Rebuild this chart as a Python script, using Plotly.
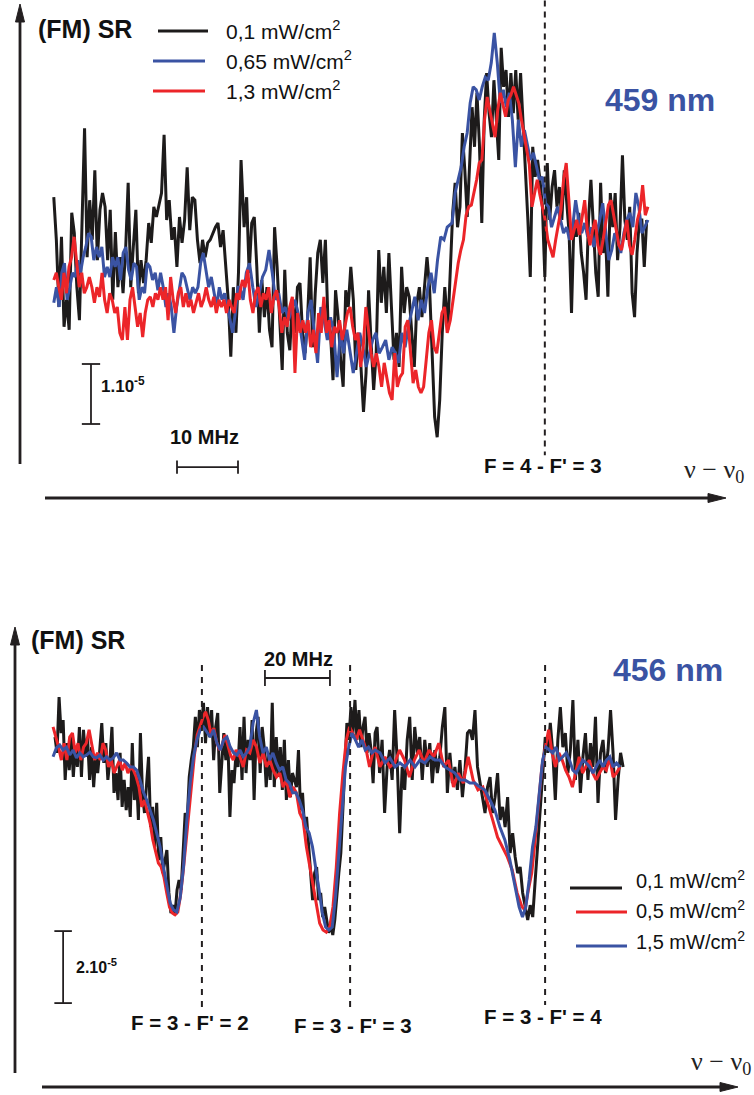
import numpy as np
import plotly.graph_objects as go

W, H = 754, 1095

# ---------------- data (signal in units of 1e-6, frequency in MHz) ----------------
# 459 nm panel
TOP_BLACK_1 = [13.8, 6.7, -4.5, 7.2, -7.8, -3.3, -8.3, 11.2, 7.8, -1.2, -6.7, 11.7, 25.3, 3.8, 13.3, 6.7, 18.3, 3.3, 11.7, 14.5, 12.2, 3.3, 11.7, -3.3, 8.0, -1.2, 3.8, -2.2, 5.0, 16.2, -1.2, 5.5, 11.7, -2.2, 3.3, -0.5, 3.3, 9.5, 6.2, 12.2, 10.5, 12.5, 14.5, 24.2, 10.0, 13.3, 6.7, 8.8, 2.2, 10.5, 6.2, 10.0, 18.8, 8.3, 13.8, 13.3, 6.7, 2.8, 6.7, 3.8, 6.2, 6.7, 7.8, 8.8, 9.5, 5.5, 8.3, 2.2, -3.3, -12.8, -1.2, -8.8, 1.2, 20.0]
TOP_BLACK_2 = [8.8, 13.8, 1.2, 9.5, 10.5, 2.2, -8.8, 0.0, -6.2, -1.2, -8.3, -11.2, 8.8, 2.2, -6.2, -15.0, 1.7, -8.8, -11.7, -3.3, -8.8, -1.2, -0.5, -8.8, -12.2, -6.2, 3.8, -11.2, -2.2, 4.5, 6.7, -0.5, 6.7, -6.7, -8.8, -16.7, -1.7, -6.2, -13.3, -17.8, -1.7, -4.5, 2.2, -3.3, -15.0, -8.8, -14.5, -22.0, -15.5, -1.7, -10.5, -18.3, -12.2, 5.0, -3.8, 2.2, -5.5, 4.5, -4.5, -13.3, -8.8, -14.5, 2.2, -5.5, -1.2, -2.8, -8.8, -14.5, -3.8, -1.2, -6.2, -1.2, 3.8, -1.2, -11.7, -22.8, -26.2, -20.0, -8.8, -1.2]
TOP_BLACK_3 = [-8.3, 1.7, 11.2, 16.2, 8.8, 12.2, 24.5, 18.3, 10.5, 19.5, 28.8, 22.2, 31.2, 22.8, 9.5, 26.7, 34.5, 27.8, 23.8, 33.3, 26.7, 20.0, 38.7, 32.2, 35.0, 27.2, 34.5, 27.8, 35.0, 26.7, 34.5, 26.7, 19.5, 10.0, 0.5, 22.2, 17.2, 20.0, 16.7, 12.2, 0.5, 19.5, 10.0, 15.5, 18.3, 12.2, 15.5, 10.0, 18.3, 12.2, 7.8, -5.5, 10.0, 7.2, 11.2, 4.5, 1.2, -3.3, 10.0, 16.7, 8.8, 1.2, -2.8, 16.2, 4.5, 7.8, -2.8, 14.5, 8.8, 14.5, 3.3, 8.8, 20.8, 10.0, 6.7, 12.2, -2.2, -6.2, 4.5, 10.0, 10.0, 2.2, 10.0]
TOP_BLACK_SPANS = [(-0.2, 30.5), (31.0, 63.9), (64.4, 97.0)]

TOP_BLUE_1 = [-3.8, -1.2, -4.5, 1.2, 2.8, -3.3, -1.2, 1.2, 0.5, 3.3, 1.2, 3.8, 5.5, 7.8, 7.2, 3.3, 5.5, 3.8, 5.5, 0.5, 2.2, 0.5, 3.8, 2.2, 3.8, 0.0, 4.5, 5.5, 1.7, 0.0, 2.8, 2.2, -3.3, -1.2, -2.2, 2.8, 2.2, 0.0, 1.2, -1.7, 1.2, -1.2, -4.5, -2.2, -4.5, -8.8, -4.5, -1.2, 1.2, 0.5, -1.2, -3.3, -1.2, -2.2, -1.2, 2.8, 4.5, 1.2, -1.2, 0.5, -2.2, -4.5, -1.2, -3.3, -2.2, -4.5, -6.7, -8.8, -5.5, -1.2]
TOP_BLUE_2 = [-1.2, -3.3, 1.2, 2.8, -1.2, -4.5, -2.2, 0.5, 1.7, 5.0, 1.2, -3.3, -2.2, -5.5, -4.5, -6.7, -5.0, -3.3, -5.5, -9.5, -13.3, -5.5, -3.3, -8.8, -13.8, -4.5, -6.7, -10.0, -6.2, -8.8, -16.2, -8.8, -12.2, -8.3, -12.2, -15.5, -12.2, -8.8, -11.2, -14.5, -12.2, -10.0, -8.8, -12.2, -11.2, -10.0, -13.3, -11.2, -12.2, -13.8, -8.8, -11.2, -7.8, -5.5, -2.8, -6.7, -3.3, -5.5, -1.2, 1.2, -2.2, 3.3, 7.2, 6.7, 8.8]
TOP_BLUE_3 = [9.5, 14.5, 16.7, 18.8, 22.2, 24.5, 29.5, 32.2, 31.7, 30.0, 32.2, 33.8, 33.3, 36.2, 41.2, 36.2, 29.5, 31.7, 28.8, 31.2, 26.7, 18.8, 26.7, 22.2, 25.0, 22.2, 20.0, 21.2, 18.8, 16.7, 17.2, 12.8, 12.2, 8.8, 10.5, 12.2, 10.0, 7.8, 8.8, 6.7, 8.8, 13.3, 10.0, 7.8, 9.5, 7.2, 8.8, 5.5, 7.8, 10.0, 12.8, 8.3, 3.3, 5.0, 7.8, 6.7, 4.5, 7.8, 10.0, 11.2, 8.8, 14.5, 12.2, 7.8, 8.8, 10.0]
TOP_BLUE_SPANS = [(-0.2, 30.0), (30.3, 64.3), (65.1, 97.2)]

TOP_RED_1 = [0.0, 1.2, -1.2, -3.3, 1.2, -2.2, 2.2, 3.8, 7.2, 3.3, -1.2, 1.2, -2.2, -1.2, 0.5, -1.2, -3.8, -1.2, -2.8, 1.2, -3.3, -5.5, -2.2, -3.3, -5.5, -4.5, -8.8, -10.0, -4.5, -10.0, -3.3, -1.2, -4.5, -7.8, -5.5, -9.5, -5.5, -3.3, -2.8, -4.5, -2.2, -3.3, -1.2, -3.3, -1.2, -6.7, 0.5, -3.3, -5.5, -2.2, -1.2, -4.5, -2.2, -4.5, -3.3, -5.5, -3.8, -2.2, -4.5, -3.3, -1.2, -3.3, -4.5, -2.8, -5.5, -3.3, -4.5, -3.3, -5.5, -3.3, -4.5, -5.5, -2.2, -3.3]
TOP_RED_2 = [-2.2, 0.0, -1.2, 1.7, -3.3, -5.5, -2.2, -1.2, -4.5, -2.2, -3.3, -1.2, -5.5, -2.8, -1.7, -4.5, -8.8, -6.2, -7.8, -4.5, -2.8, -15.5, -5.5, -8.8, -6.7, -8.8, -6.7, -11.2, -8.3, -12.2, -5.5, -8.8, -2.8, -8.8, -6.7, -11.2, -7.8, -8.8, -6.7, -10.0, -7.8, -5.5, -4.5, -7.8, -10.0, -8.8, -14.5, -11.2, -4.5, -8.8, -12.2, -14.5, -12.2, -14.5, -17.8, -13.8, -16.2, -18.8, -20.0, -12.2, -17.8, -16.2, -15.5, -7.8, -6.7, -12.8, -17.2, -15.0, -17.8, -18.8, -17.8, -13.3, -8.8, -6.7, -11.2, -12.2, -8.8, -5.5, -4.5, -8.8]
TOP_RED_3 = [-6.7, -3.3, 0.0, 2.8, 5.0, 6.7, 10.8, 12.2, 12.5, 14.5, 16.7, 19.5, 20.0, 26.7, 30.5, 28.3, 25.8, 23.8, 28.3, 31.2, 29.2, 27.2, 30.0, 30.8, 32.2, 30.8, 29.5, 26.7, 24.2, 22.2, 19.2, 12.2, 14.2, 16.7, 14.2, 12.2, 10.0, 6.7, 5.0, 3.8, 6.7, 9.5, 11.7, 16.7, 19.5, 13.3, 6.7, 8.3, 10.0, 7.5, 10.8, 13.3, 8.3, 5.8, 8.3, 10.0, 5.8, 4.2, 6.7, 10.0, 12.5, 13.3, 10.8, 8.3, 5.8, 5.0, 7.5, 10.0, 5.8, 4.2, 6.7, 10.0, 11.7, 15.8, 10.8, 12.2]
TOP_RED_SPANS = [(-0.2, 30.2), (30.3, 64.3), (64.8, 97.2)]

# 456 nm panel
BOT_BLACK_1 = [3.6, -0.8, 14.7, 4.7, 8.3, -8.3, 1.9, -5.6, 3.6, -7.5, 0.8, -4.7, 6.4, -7.5, 5.6, -1.9, 3.6, -8.3, 0.8, -10.3, -1.9, -6.4, 0.0, 7.5, -3.6, 1.9, -8.3, -2.8, 6.4, -11.9, -6.4, -13.9, -0.8, -15.8, -8.3, -16.7, -10.3, -18.6, 1.9, -13.9, -6.4, -19.4, 4.7, -11.9, -17.5, -10.3, -1.9, -21.4, -15.8, -26.9, -14.7, -30.6, -24.2, -34.2, -30.6, -27.8, -39.7, -45.3, -43.1, -45.8, -38.9, -36.1, -38.9, -26.9, -17.5, -19.4, -7.5, -2.8, 0.8, 9.2, 0.8, 11.1, 6.4, 13.1, 1.9, 11.9, 3.6, 11.1, -2.8, 6.4, 10.3, -11.9, -2.8, 4.7, -2.8, 2.8, -18.6, -5.6, -9.2, -0.8]
BOT_BLACK_2 = [-4.7, 6.4, -8.3, 9.2, -6.4, 2.8, -2.8, 8.3, -13.9, 4.7, 9.2, -6.4, 6.4, 0.8, -10.3, -0.8, -8.3, 13.1, -10.3, 3.6, -7.5, 0.8, -11.1, 2.8, -13.9, -2.8, -13.1, -6.4, -8.3, -10.3, 0.0, -16.7, -11.9, -21.4, -18.6, -26.9, -36.1, -41.7, -34.2, -32.5, -41.7, -39.7, -46.4, -43.6, -47.2, -50.8, -48.1, -51.4, -47.2, -39.7, -34.2, -28.6, -17.5, -4.7, 7.5, 2.8, 11.9, 4.7, 13.9, 2.8, 11.1, 0.8, 6.4, 9.2, -0.8, 4.7, 0.0, -9.2, 4.7]
BOT_BLACK_3 = [6.4, -6.4, 2.8, -17.5, -4.7, 0.0, -8.3, 11.1, -2.8, -23.1, -4.7, -11.1, 2.8, 9.2, -8.3, 6.4, -0.8, 3.6, -8.3, 2.8, -4.7, 1.9, -9.2, 0.0, -6.4, -1.9, 6.4, 11.9, -11.9, -0.8, -9.2, -4.7, -11.1, -2.8, -13.1, -5.6, 4.7, 5.6, 2.8, 11.1, -4.7, -9.2, -13.9, -17.5, -10.3, -7.5, -17.5, -13.1, -6.4, -19.4, -15.8, -21.4, -13.1, -28.6, -23.1, -29.7, -34.2, -32.5, -39.7, -43.6, -47.2, -43.1, -46.4, -36.1, -26.9, -15.8, -6.4, 3.6, -0.8, 7.5, -0.8, -13.9, 2.8, 11.9, 0.8, 4.7, -6.4, 0.0, 13.9, -8.3, 2.8, -11.9, -1.9, 4.7, -8.3, 1.9, -4.7, 9.2, -14.7, -0.8, 2.8, -6.4, 0.0, 11.1, -0.8, -19.4, -8.3, -0.8, -4.7]
BOT_BLACK_SPANS = [(0.0, 55.7), (56.3, 98.5), (99.1, 174.8)]

BOT_RED_1 = [6.4, 3.6, 0.8, -2.8, 1.9, -2.8, 3.6, 4.7, -0.8, 1.9, -2.8, 0.8, 1.9, 5.6, 0.8, -2.8, -0.8, -2.8, 1.9, 0.0, -4.7, -2.8, -6.4, -4.7, -2.8, -5.6, -3.6, -6.4, -4.7, -5.6, -7.5, -10.3, -15.8, -13.9, -17.5, -20.3, -25.0, -28.6, -31.4, -32.5, -35.3, -39.7, -43.6, -45.3, -45.8, -45.0, -40.3, -33.3, -25.0, -16.7, -8.3, -1.4, 4.2, 6.9, 8.9, 10.6, 8.3, 4.2, 6.1, 2.2, 0.0, 1.4, 4.2, 1.4, -1.4, -2.8, 0.0]
BOT_RED_2 = [-1.9, -4.7, 0.0, -0.8, 2.8, 0.8, -3.6, -0.8, -4.7, -2.8, -5.6, -7.5, -6.4, -10.3, -8.3, -13.1, -10.3, -11.9, -17.5, -19.4, -26.9, -32.5, -38.1, -43.6, -48.1, -50.0, -50.6, -49.2, -43.6, -32.5, -17.5, -6.4, 2.8, 6.4, 4.7, 2.8, 5.6, 2.8, 0.0, -4.7, -0.8]
BOT_RED_3 = [0.8, -4.7, -1.9, -4.7, -3.6, 0.0, -2.8, -7.5, -2.8, 0.0, -3.6, 0.0, -1.9, 1.9, -4.7, -2.8, -10.3, -6.4, -9.2, -1.9, -8.3, -11.1, -10.3, -14.7, -19.4, -24.2, -26.9, -29.7, -33.3, -39.7, -43.6]
BOT_RED_4 = [-44.4, -38.9, -34.2, -25.0, -13.9, -4.7, 0.8, 5.6, -0.8, -4.7, -0.8, -2.8, -5.6, -7.5, -10.3, -6.4, -1.9, -6.4, -4.7, -2.8, -6.4, -8.3, -6.4, -4.7, -5.6, -1.9, -7.5, -6.4, -4.7]
BOT_RED_SPANS = [(-0.6, 55.7), (56.9, 97.8), (98.5, 143.7), (144.6, 173.8)]

BOT_BLUE_1 = [-1.9, 0.6, 1.4, 0.0, 0.8, -1.4, 0.0, -2.2, -0.8, -1.9, -1.4, -0.6, -1.9, -2.2, -1.4, -2.8, -1.9, -2.8, -2.2, -0.8, -2.8, -2.8, -3.6, -4.7, -4.7, -5.6, -8.3, -11.7, -13.9, -16.7, -19.4, -23.1, -26.9, -32.5, -38.1, -42.5, -44.4, -45.0, -41.1, -32.5, -19.4, -9.2, -1.9, 2.8, 5.6, 6.4, 5.0, 3.6, 5.6, 1.9, 0.0, 2.8, 3.6, 0.8, -0.8, -1.4]
BOT_BLUE_2 = [0.0, -1.9, -0.8, 0.8, 7.5, 11.1, 3.6, -0.8, 0.8, -2.8, -0.8, -3.6, -5.6, -4.7, -8.3, -9.2, -11.9, -11.9, -13.9, -16.7, -21.4, -23.1, -26.9, -32.5, -38.9, -45.3, -49.2, -50.0, -49.2, -40.8, -28.6, -15.8, -4.7, 0.8, 4.7, 2.8, 0.8, 2.8, 0.0, 0.8, -0.8, 0.0]
BOT_BLUE_3 = [-0.8, -3.6, -2.2, -4.7, -3.6, -4.7, -2.8, -4.7, -2.8, -3.6, -1.9, -2.8, -2.8, -4.7, -5.6, -6.4, -8.3, -8.3, -9.2, -9.2, -10.3, -11.1, -13.9, -16.7, -21.4, -25.0, -30.6, -38.1]
BOT_BLUE_4 = [-43.6, -46.4, -43.6, -36.1, -26.9, -21.4, -11.1, -2.8, 0.8, 0.0, -0.8, 0.8, -2.8, -1.9, -0.8, -2.8, -5.6, -6.4, -4.7, -2.8, -3.6, -4.7, -6.4, -4.7, -2.8, -4.7, -2.8, -1.9, -4.7, -3.6, -4.7]
BOT_BLUE_SPANS = [(-0.6, 56.0), (56.9, 98.5), (100.0, 141.5), (142.8, 173.8)]

TOP_LEGEND = ["0,1 mW/cm<sup>2</sup>", "0,65 mW/cm<sup>2</sup>", "1,3 mW/cm<sup>2</sup>"]
BOT_LEGEND = ["0,1 mW/cm<sup>2</sup>", "0,5 mW/cm<sup>2</sup>", "1,5 mW/cm<sup>2</sup>"]
TOP_TRANSITIONS = [(80.3, "F = 4 - F' = 3")]
BOT_TRANSITIONS = [(45.2, "F = 3 - F' = 2"), (90.8, "F = 3 - F' = 3"), (150.8, "F = 3 - F' = 4")]

BLACK, BLUE, RED = "#1d1b1b", "#3a53a3", "#ec2529"
DARK = "#231f20"
FONT = "Arial, Liberation Sans, sans-serif"
LW = 3.0


def assemble(segs, spans):
    xs = np.concatenate([np.linspace(a, b, len(s)) for s, (a, b) in zip(segs, spans)])
    ys = np.concatenate([np.asarray(s, float) for s in segs])
    return xs, ys


def px(x):
    return x / W


def py(y):
    return 1 - y / H


fig = go.Figure()

top = [([TOP_BLACK_1, TOP_BLACK_2, TOP_BLACK_3], TOP_BLACK_SPANS, BLACK),
       ([TOP_BLUE_1, TOP_BLUE_2, TOP_BLUE_3], TOP_BLUE_SPANS, BLUE),
       ([TOP_RED_1, TOP_RED_2, TOP_RED_3], TOP_RED_SPANS, RED)]
for segs, spans, col in top:
    x, y = assemble(segs, spans)
    fig.add_trace(go.Scatter(x=x, y=y, mode="lines", line=dict(color=col, width=LW),
                             xaxis="x", yaxis="y", showlegend=False, hoverinfo="skip"))

bot = [([BOT_BLACK_1, BOT_BLACK_2, BOT_BLACK_3], BOT_BLACK_SPANS, BLACK),
       ([BOT_RED_1, BOT_RED_2, BOT_RED_3, BOT_RED_4], BOT_RED_SPANS, RED),
       ([BOT_BLUE_1, BOT_BLUE_2, BOT_BLUE_3, BOT_BLUE_4], BOT_BLUE_SPANS, BLUE)]
for segs, spans, col in bot:
    x, y = assemble(segs, spans)
    fig.add_trace(go.Scatter(x=x, y=y, mode="lines", line=dict(color=col, width=LW),
                             xaxis="x2", yaxis="y2", showlegend=False, hoverinfo="skip"))

split = 540 / H
hidden = dict(visible=False, showgrid=False, zeroline=False, fixedrange=True)
fig.update_layout(
    width=W, height=H, autosize=False,
    margin=dict(l=0, r=0, t=0, b=0),
    paper_bgcolor="white", plot_bgcolor="rgba(0,0,0,0)",
    xaxis=dict(domain=[0, 1], range=[-55 / 6.1, 699 / 6.1], anchor="y", **hidden),
    yaxis=dict(domain=[1 - split, 1], range=[-260 / 6, 280 / 6], anchor="x", **hidden),
    xaxis2=dict(domain=[0, 1], range=[-55 / 3.25, 699 / 3.25], anchor="y2", **hidden),
    yaxis2=dict(domain=[0, 1 - split], range=[-345 / 3.6, 210 / 3.6], anchor="x2", **hidden),
)

shapes = []
ann = []


def pline(x0, y0, x1, y1, w=2.8, col=DARK):
    shapes.append(dict(type="line", xref="paper", yref="paper", x0=px(x0), y0=py(y0),
                       x1=px(x1), y1=py(y1), line=dict(color=col, width=w)))


def ptri(pts, col=DARK):
    path = "M " + " L ".join(f"{px(a)},{py(b)}" for a, b in pts) + " Z"
    shapes.append(dict(type="path", xref="paper", yref="paper", path=path,
                       fillcolor=col, line=dict(color=col, width=1)))


def text(x, y, s, size, xanchor="left", bold=False, col="#111", family=FONT):
    ann.append(dict(xref="paper", yref="paper", x=px(x), y=py(y), text=(f"<b>{s}</b>" if bold else s),
                    showarrow=False, xanchor=xanchor, yanchor="middle",
                    font=dict(size=size, color=col, family=family)))


SERIF = "Liberation Serif, Times New Roman, serif"

# axes arrows (schematic)
pline(20, 464, 20, 18)
ptri([(20, 4), (15.5, 22), (24.5, 22)])
pline(45, 498, 712, 498)
ptri([(726, 498), (708, 493.5), (708, 502.5)])
pline(15, 1073, 15, 642)
ptri([(15, 627), (10.5, 645), (19.5, 645)])
pline(42, 1087, 722, 1087)
ptri([(738, 1087), (720, 1082.5), (720, 1091.5)])

text(682, 471, "ν − ν<sub>0</sub>", 26, family=SERIF, col="#222")
text(689, 1063, "ν − ν<sub>0</sub>", 26, family=SERIF, col="#222")

text(36, 29, "(FM) SR", 25, bold=True)
text(29, 640, "(FM) SR", 25, bold=True)

# legends
for (x0, x1, yy), col, lab in zip([(158, 208, 31), (153, 205, 61), (153, 205, 91)],
                                  [BLACK, BLUE, RED], TOP_LEGEND):
    pline(x0, yy, x1, yy, w=3.2, col=col)
    text(224, yy - 1, lab, 21, col="#111")
for (x0, x1, yy, ty), col, lab in zip([(570, 622, 888, 879), (576, 627, 912, 909), (576, 627, 946, 940)],
                                      [BLACK, RED, BLUE], BOT_LEGEND):
    pline(x0, yy, x1, yy, w=3.2, col=col)
    text(634, ty, lab, 20, col="#111")

text(603, 100, "459 nm", 32, bold=True, col=BLUE)
text(611, 670, "456 nm", 32, bold=True, col=BLUE)


# scale bars (data coordinates)
def dline(xr, yr, x0, y0, x1, y1, w=1.8, dash=None):
    d = dict(type="line", xref=xr, yref=yr, x0=x0, y0=y0, x1=x1, y1=y1,
             line=dict(color=DARK, width=w))
    if dash:
        d["line"]["dash"] = dash
    shapes.append(d)


# top: 1e-5 vertical, 10 MHz horizontal
dline("x", "y", 5.9, -24.0, 5.9, -14.0)
dline("x", "y", 4.4, -24.0, 7.4, -24.0)
dline("x", "y", 4.4, -14.0, 7.4, -14.0)
dline("x", "y", 20.0, -31.2, 30.0, -31.2)
dline("x", "y", 20.0, -30.1, 20.0, -32.3)
dline("x", "y", 30.0, -30.1, 30.0, -32.3)
text(99, 385, "1.10<sup>-5</sup>", 17, bold=True)
text(204, 437, "10 MHz", 20, xanchor="center", bold=True)

# bottom: 2e-5 vertical, 20 MHz horizontal
dline("x2", "y2", 2.5, -70.3, 2.5, -50.3)
dline("x2", "y2", -0.2, -70.3, 5.2, -70.3)
dline("x2", "y2", -0.2, -50.3, 5.2, -50.3)
dline("x2", "y2", 64.6, 20.0, 84.6, 20.0)
dline("x2", "y2", 64.6, 22.2, 64.6, 17.8)
dline("x2", "y2", 84.6, 22.2, 84.6, 17.8)
text(74, 966, "2.10<sup>-5</sup>", 16, bold=True)
text(298, 659, "20 MHz", 20, xanchor="center", bold=True)

# transitions (dashed markers)
for f, lab in TOP_TRANSITIONS:
    dline("x", "y", f, 46.6, f, -29.2, w=2, dash="6px,5px")
    text(543, 466, lab, 20.5, xanchor="center", bold=True)
for (f, lab), (ylo, lx, ly) in zip(BOT_TRANSITIONS, [(-72.2, 190, 1022), (-72.8, 353, 1025), (-70.8, 543, 1016)]):
    dline("x2", "y2", f, 23.6, f, ylo, w=2, dash="6px,6px")
    text(lx, ly, lab, 20.5, xanchor="center", bold=True)

fig.update_layout(shapes=shapes, annotations=ann)
fig.write_html("out.html")
